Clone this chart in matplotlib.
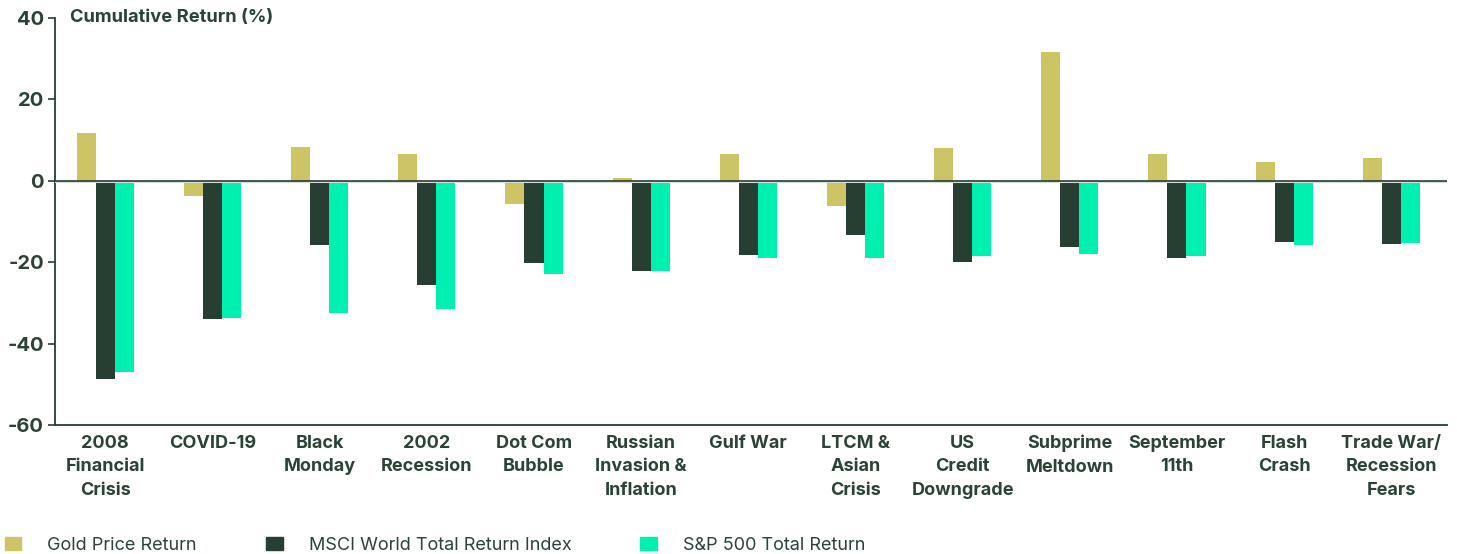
import matplotlib
matplotlib.use("Agg")
import matplotlib.pyplot as plt
import numpy as np
from matplotlib.patches import Patch

categories = ["2008\nFinancial\nCrisis", "COVID-19", "Black\nMonday", "2002\nRecession",
              "Dot Com\nBubble", "Russian\nInvasion &\nInflation", "Gulf War", "LTCM &\nAsian\nCrisis",
              "US\nCredit\nDowngrade", "Subprime\nMeltdown", "September\n11th", "Flash\nCrash",
              "Trade War/\nRecession\nFears"]
gold = [11.8, -3.7, 8.3, 6.6, -5.8, 0.8, 6.6, -6.3, 8.1, 31.7, 6.6, 4.7, 5.6]
msci = [-48.8, -33.9, -15.7, -25.5, -20.2, -22.2, -18.3, -13.4, -20.0, -16.2, -18.9, -15.0, -15.5]
sp500 = [-47.1, -33.6, -32.6, -31.4, -22.8, -22.2, -19.0, -19.0, -18.4, -17.9, -18.4, -15.7, -15.2]
series_names = ["Gold Price Return", "MSCI World Total Return Index", "S&P 500 Total Return"]
yticks = [40, 20, 0, -20, -40, -60]

c_gold = "#CDC466"
c_dark = "#273F33"
c_teal = "#00F0B0"
c_text = "#2A4336"

plt.rcParams['font.family'] = ['Inter', 'DejaVu Sans']

fig = plt.figure(figsize=(14.57, 5.54), dpi=100)
ax = fig.add_axes([55/1457, 1-425/554, (1447-55)/1457, (425-18)/554])

x = np.arange(len(categories))
w = 0.178
ax.bar(x - w, gold, w, color=c_gold, zorder=2)
ax.bar(x, msci, w, color=c_dark, zorder=2)
ax.bar(x + w, sp500, w, color=c_teal, zorder=2)

ax.axhline(-0.35, color="#d6dad8", lw=1.5, zorder=3)
ax.axhline(0, color=c_dark, lw=1.2, zorder=4)

ax.set_xlim(-0.47, 12.52)
ax.set_ylim(-60, 40)
ax.set_yticks(yticks)
ax.set_yticklabels([str(v) for v in yticks], fontsize=14.5, fontweight='bold', color=c_text)
ax.set_xticks(x)
ax.set_xticklabels(categories, fontsize=13, fontweight='bold', color=c_text, linespacing=1.5, va='top')
ax.tick_params(axis='x', length=0, pad=7)
ax.tick_params(axis='y', length=5, width=1.2, color=c_dark, pad=3)

for s in ['top', 'right']:
    ax.spines[s].set_visible(False)
for s in ['left', 'bottom']:
    ax.spines[s].set_color(c_dark)
    ax.spines[s].set_linewidth(1.3)

ax.text(70/1457, 1-18/554, "Cumulative Return (%)", transform=fig.transFigure,
        fontsize=13.2, fontweight='bold', color=c_text, va='center', ha='left')

handles = [Patch(color=c_gold), Patch(color=c_dark), Patch(color=c_teal)]
leg = fig.legend(handles, series_names, loc='lower left', bbox_to_anchor=(0.0, -0.008),
                 ncol=3, frameon=False, fontsize=13, handlelength=0.94, handleheight=0.78,
                 handletextpad=1.44, columnspacing=3.8, labelcolor=c_text,
                 borderaxespad=0.0, borderpad=0.25)

fig.savefig("out.png", dpi=100, facecolor="white")
